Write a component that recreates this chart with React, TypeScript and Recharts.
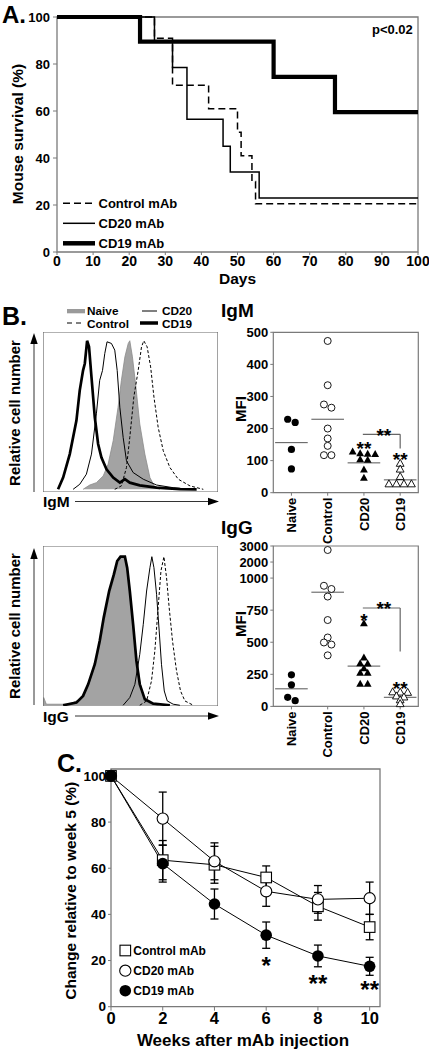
import React from 'react';
import {
  LineChart,
  Line,
  ComposedChart,
  Area,
  ScatterChart,
  Scatter,
  XAxis,
  YAxis,
  ErrorBar,
  ReferenceArea,
  ReferenceLine,
  ReferenceDot,
} from 'recharts';

const FONT = '"Liberation Sans", Arial, Helvetica, sans-serif';
const BOX = '#7a7a7a';

// ---------- A. survival (days, % alive) ----------
const dayTicks = [0, 10, 20, 30, 40, 50, 60, 70, 80, 90, 100];
const survTicks = [0, 20, 40, 60, 80, 100];
const ctrlDays = [0, 27, 32, 42, 50, 51, 54, 55, 100];
const ctrlSurv = [100, 91, 71, 61, 51, 41, 30, 20.5, 20.5];
const cd20Days = [0, 27, 32, 36, 46, 48, 56, 100];
const cd20Surv = [100, 89.5, 78.5, 56.5, 45, 34, 23, 23];
const cd19Days = [0, 23, 60, 77, 100];
const cd19Surv = [100, 89.5, 74.5, 59.5, 59.5];

// ---------- B. histograms [channel, relative count] ----------
const igmNaiveHist = [[22.9, 0], [26.7, 2.9], [30.5, 4.5], [34.4, 9], [37.2, 16.9], [40.1, 32.7], [42.9, 55.3], [44.8, 73.4], [46.8, 89.2], [48.7, 98.2], [49.6, 100], [51.1, 89.2], [53.1, 68.8], [55.3, 44], [58.2, 23.7], [61.1, 7.9], [63.9, 1.6], [66.8, 0]];
const igmCd19Hist = [[8.6, 0], [11.5, 7.9], [15.3, 23.7], [19.1, 46.3], [21, 66.6], [22.9, 80.1], [23.9, 84.7], [25.2, 100], [26.3, 95.9], [27.7, 75.6], [29.6, 48.5], [31.5, 30.5], [33.4, 21.4], [36.3, 13.5], [40.1, 7.9], [43.9, 4.5], [46.8, 6.8], [49.6, 4.5], [55.3, 2.7], [64.9, 1.1], [78.2, 0.2], [87.8, 0]];
const igmCd20Hist = [[17.2, 0], [21, 3.4], [24.8, 10.2], [27.7, 23.7], [30.5, 50.8], [32.4, 73.4], [34, 80], [35.3, 91.4], [36.6, 99.3], [39.1, 98.2], [41, 93.7], [42.4, 80], [43.9, 55.3], [45.8, 35], [47.7, 19.2], [51.5, 11.3], [57.3, 6.8], [64.9, 2.9], [74.4, 1.1], [84, 0]];
const igmCtrlHist = [[41, 0], [44.8, 2.3], [47.7, 14.7], [49.6, 35], [51.9, 62.1], [54.4, 80.1], [56.3, 95.9], [57.6, 100], [59.5, 95.9], [61.5, 82.4], [63.4, 62.1], [65.8, 41.8], [68.7, 26], [72.5, 14.7], [77.3, 6.8], [84, 2.3], [91.6, 0]];

const iggNaiveHist = [[0, 0], [0.4, 5.2], [1.9, 0.7], [13.4, 0.7], [17.2, 1.8], [21, 4], [23.9, 8.5], [26.7, 16.4], [30.5, 29.8], [33.4, 46.6], [35.3, 59], [38.2, 75.8], [41, 88.1], [42.9, 96], [44.8, 100], [46.8, 99.3], [48.1, 90.4], [49.6, 74.7], [51.5, 52.2], [53.4, 32.1], [55.3, 16.4], [57.3, 6.3], [60.1, 1.8], [64.9, 0.2], [66, 0]];
const iggCd19Hist = [[11.5, 0], [19.1, 1.8], [22.9, 6.3], [25.8, 14.1], [29.6, 27.6], [32.4, 43.3], [34.7, 59], [37.8, 76.9], [40.5, 88.1], [42.4, 97.1], [44.3, 100], [46.8, 100], [48.1, 92.6], [49.6, 76.9], [51.5, 54.5], [53.4, 29.8], [55.3, 14.1], [58.2, 4], [63, 1.1], [72.5, 0]];
const iggCd20Hist = [[45.8, 0], [49.6, 5.2], [52.5, 14.1], [55.3, 34.3], [57.3, 54.5], [59.2, 76.9], [61.1, 92.6], [62.2, 100], [63.4, 92.6], [64.9, 74.7], [66.4, 50], [67.7, 27.6], [69.3, 9.6], [71, 2.9], [74.4, 0.7], [78.2, 0]];
const iggCtrlHist = [[55.3, 0], [59.2, 2.9], [62, 16.4], [63.9, 36.5], [65.8, 65.7], [67.4, 90.4], [69.1, 100], [70.6, 85.9], [72.1, 65.7], [74, 43.3], [76.3, 23.1], [78.6, 9.6], [81.1, 2.9], [85.9, 0]];

// ---------- B. MFI per mouse ----------
const groups = ['Naive', 'Control', 'CD20', 'CD19'];
const igmTicks = [0, 100, 200, 300, 400, 500];
const igmNaive = [229, 219, 135, 74];
const igmCtrl = [473, 335, 275, 265, 200, 169, 146, 117, 117];
const igmCd20 = [128, 122, 121, 120, 104, 102, 72, 46];
const igmCd19 = [91, 73, 50, 27, 27, 27, 27];
const igmMeans = [156, 229, 93, 40];

const iggTicks = [0, 250, 500, 750, 1000, 2000, 3000];
const iggNaive = [246, 168, 71, 45];
const iggCtrl = [2750, 940, 915, 856, 673, 537, 498, 482, 398];
const iggCd20 = [647, 380, 335, 333, 296, 260, 260, 175, 175];
const iggCd19 = [112, 110, 108, 80, 72, 50, 20];
const iggMeans = [137, 890, 314, 71];

// ---------- C. change relative to week 5 ----------
const weeks = [0, 2, 4, 6, 8, 10];
const ctrlChange = [100, 63.5, 61.5, 56, 43.5, 34.5];
const ctrlErr = [0, 8.5, 8, 5, 6, 5.5];
const cd20Change = [100, 81.5, 63, 50, 46.5, 47];
const cd20Err = [0, 11.5, 8, 6.5, 6, 7];
const cd19Change = [100, 62, 44.5, 31, 22, 17.5];
const cd19Err = [0, 8, 6.5, 5.7, 4.7, 3.9];

const steps = (d: number[], s: number[]) => d.map((day, i) => ({ day, surv: s[i] }));
const hist = (h: number[][]) => h.map(([ch, n]) => ({ ch, n }));

// broken IgG axis: 1000..3000 squeezed
const brk = (v: number) => (v <= 1000 ? v : 1000 + (v - 1000) * 0.125);

// place dots of near-equal value side by side
const BAND_PX = (418.3 - 273.3) / 4;
function swarm(vals: number[], idx: number, pxPerUnit: number, tf: (v: number) => number = (v) => v) {
  const s = vals.map(tf).sort((a, b) => b - a);
  const out: { x: number; y: number }[] = [];
  const step = 7.5 / BAND_PX;
  let i = 0;
  while (i < s.length) {
    let j = i + 1;
    while (j < s.length && (s[i] - s[j]) * pxPerUnit < 3.6) j++;
    const n = j - i;
    for (let k = i; k < j; k++) out.push({ x: idx + (k - i - (n - 1) / 2) * step, y: s[k] });
    i = j;
  }
  return out;
}

const tickStyle = (size: number) => ({ fontSize: size, fontWeight: 700, fill: '#000', fontFamily: FONT });

const filledCircle = (p: any) => <circle cx={p.cx} cy={p.cy} r={3.6} fill="#000" />;
const openCircle = (p: any) => <circle cx={p.cx} cy={p.cy} r={3.5} fill="#fff" stroke="#000" strokeWidth={0.9} />;
const triPath = (cx: number, cy: number) => `M${cx},${cy - 4.2}L${cx - 3.9},${cy + 2.8}L${cx + 3.9},${cy + 2.8}Z`;
const filledTri = (p: any) => <path d={triPath(p.cx, p.cy)} fill="#000" />;
const openTri = (p: any) => <path d={triPath(p.cx, p.cy)} fill="#fff" stroke="#000" strokeWidth={0.9} />;

const stars = (s: string, fs: number) => (p: any) => (
  <text x={p.cx} y={p.cy + 0.56 * fs} textAnchor="middle" fontSize={fs} fontWeight={700} fontFamily={FONT}>
    {s}
  </text>
);

const CatTick = (p: any) => (
  <text
    x={p.x}
    y={p.y}
    transform={`rotate(-90 ${p.x} ${p.y})`}
    textAnchor="end"
    dy="0.36em"
    fontSize={13}
    fontWeight={700}
    fontFamily={FONT}
  >
    {groups[p.payload.value]}
  </text>
);

const VText = ({ x, y, size, children }: any) => (
  <text transform={`translate(${x} ${y}) rotate(-90)`} textAnchor="middle" dy="0.36em" fontSize={size} fontWeight={700} fontFamily={FONT}>
    {children}
  </text>
);

const T = ({ x, y, size, anchor = 'start', children }: any) => (
  <text x={x} y={y} fontSize={size} fontWeight={700} fontFamily={FONT} textAnchor={anchor}>
    {children}
  </text>
);

function Histogram({ naive, cd19, cd20, ctrl, yDomain }: any) {
  return (
    <ComposedChart width={175} height={160} data={hist(naive)} margin={{ top: 0, right: 0, bottom: 0, left: 0 }}>
      <XAxis hide type="number" dataKey="ch" domain={[0, 100]} />
      <YAxis hide type="number" domain={yDomain} />
      <Area dataKey="n" type="linear" baseValue={0} fill="#a3a3a3" fillOpacity={1} stroke="#8a8a8a" strokeWidth={0.8} isAnimationActive={false} />
      <Line data={hist(cd20)} dataKey="n" type="linear" stroke="#000" strokeWidth={1} dot={false} isAnimationActive={false} />
      <Line data={hist(ctrl)} dataKey="n" type="linear" stroke="#000" strokeWidth={1} strokeDasharray="3 2" dot={false} isAnimationActive={false} />
      <Line data={hist(cd19)} dataKey="n" type="linear" stroke="#000" strokeWidth={2.7} dot={false} isAnimationActive={false} />
      <ReferenceArea x1={0} x2={100} y1={yDomain[0]} y2={yDomain[1]} fill="none" stroke="#666" strokeWidth={1.2} ifOverflow="visible" />
    </ComposedChart>
  );
}

function MfiPlot({ sets, means, top, height, pxPerUnit, tf, domain, ticks, tickLabels, marks }: any) {
  const shapes = [filledCircle, openCircle, filledTri, openTri];
  return (
    <ScatterChart width={209} height={height} margin={{ top, right: 10.7, bottom: 0, left: 0 }}>
      <XAxis
        type="number"
        dataKey="x"
        domain={[-0.5, 3.5]}
        ticks={[0, 1, 2, 3]}
        interval={0}
        height={height - top - 160.4}
        axisLine={false}
        tickLine={{ stroke: BOX }}
        tickSize={3}
        tickMargin={2}
        tick={<CatTick />}
      />
      <YAxis
        type="number"
        dataKey="y"
        domain={domain}
        ticks={ticks.map(tf)}
        interval={0}
        width={53.3}
        axisLine={false}
        tickLine={{ stroke: BOX }}
        tickSize={3}
        tickMargin={2}
        tickFormatter={(v: number, i: number) => String(tickLabels[i])}
        tick={tickStyle(13)}
      />
      <ReferenceArea x1={-0.5} x2={3.5} y1={domain[0]} y2={domain[1]} fill="none" stroke={BOX} strokeWidth={1.2} ifOverflow="visible" />
      {means.map((m: number, i: number) => (
        <ReferenceLine key={`m${i}`} segment={[{ x: i - 0.45, y: tf(m) }, { x: i + 0.45, y: tf(m) }]} stroke="#555" strokeWidth={1} />
      ))}
      {sets.map((vals: number[], i: number) => (
        <Scatter key={groups[i]} name={groups[i]} data={swarm(vals, i, pxPerUnit, tf)} shape={shapes[i]} isAnimationActive={false} />
      ))}
      <ReferenceLine segment={[{ x: 1.97, y: marks.bracket }, { x: 3, y: marks.bracket }]} stroke="#666" strokeWidth={1.2} />
      <ReferenceLine segment={[{ x: 3, y: marks.bracket }, { x: 3, y: marks.bracketEnd }]} stroke="#666" strokeWidth={1.2} />
      <ReferenceDot x={2.55} y={marks.bracketStar} ifOverflow="visible" shape={stars('**', 19)} />
      <ReferenceDot x={2} y={marks.cd20Star[0]} ifOverflow="visible" shape={stars(marks.cd20Star[1], 19)} />
      <ReferenceDot x={3} y={marks.cd19Star} ifOverflow="visible" shape={stars('**', 19)} />
    </ScatterChart>
  );
}

const cData = weeks.map((w, i) => ({
  w,
  ctrl: ctrlChange[i],
  ctrlE: ctrlErr[i],
  cd20: cd20Change[i],
  cd20E: cd20Err[i],
  cd19: cd19Change[i],
  cd19E: cd19Err[i],
}));

const squareDot = (p: any) => (
  <rect key={`s${p.index}`} x={p.cx - 5.3} y={p.cy - 5.3} width={10.6} height={10.6} fill="#fff" stroke="#000" strokeWidth={1.1} />
);
const openDot = (p: any) => <circle key={`o${p.index}`} cx={p.cx} cy={p.cy} r={5.6} fill="#fff" stroke="#000" strokeWidth={1.1} />;
const fillDot = (p: any) => <circle key={`f${p.index}`} cx={p.cx} cy={p.cy} r={5.8} fill="#000" />;

const abs = (left: number, top: number): React.CSSProperties => ({ position: 'absolute', left, top });

export default function App() {
  return (
    <div style={{ position: 'absolute', left: 0, top: 0, width: 429, height: 1050, background: '#fff', overflow: 'hidden' }}>
      {/* A */}
      <div style={abs(0, 0)}>
        <LineChart width={429} height={290} margin={{ top: 17, right: 11, bottom: 0, left: 0 }}>
          <XAxis
            type="number"
            dataKey="day"
            domain={[0, 100]}
            ticks={dayTicks}
            interval={0}
            height={38}
            axisLine={false}
            tickLine={{ stroke: BOX }}
            tickSize={3}
            tickMargin={1}
            tick={tickStyle(14)}
          />
          <YAxis
            type="number"
            domain={[0, 100]}
            ticks={survTicks}
            interval={0}
            width={57}
            axisLine={false}
            tickLine={{ stroke: BOX }}
            tickSize={4}
            tickMargin={3}
            tick={tickStyle(13)}
          />
          <ReferenceArea x1={0} x2={100} y1={0} y2={100} fill="none" stroke={BOX} strokeWidth={1.3} ifOverflow="visible" />
          <Line data={steps(ctrlDays, ctrlSurv)} dataKey="surv" type="stepAfter" stroke="#000" strokeWidth={1.5} strokeDasharray="7 4" dot={false} isAnimationActive={false} />
          <Line data={steps(cd20Days, cd20Surv)} dataKey="surv" type="stepAfter" stroke="#000" strokeWidth={1.5} dot={false} isAnimationActive={false} />
          <Line data={steps(cd19Days, cd19Surv)} dataKey="surv" type="stepAfter" stroke="#000" strokeWidth={4.2} dot={false} isAnimationActive={false} />
        </LineChart>
      </div>

      {/* B histograms */}
      <div style={abs(43.3, 332)}>
        <Histogram naive={igmNaiveHist} cd19={igmCd19Hist} cd20={igmCd20Hist} ctrl={igmCtrlHist} yDomain={[-1.8, 105.9]} />
      </div>
      <div style={abs(43.3, 545.5)}>
        <Histogram naive={iggNaiveHist} cd19={iggCd19Hist} cd20={iggCd20Hist} ctrl={iggCtrlHist} yDomain={[-0.5, 107.2]} />
      </div>

      {/* B MFI */}
      <div style={abs(220, 320)}>
        <MfiPlot
          sets={[igmNaive, igmCtrl, igmCd20, igmCd19]}
          means={igmMeans}
          top={12.3}
          height={232}
          pxPerUnit={160.4 / 500}
          tf={(v: number) => v}
          domain={[0, 500]}
          ticks={igmTicks}
          tickLabels={igmTicks}
          marks={{ bracket: 182, bracketEnd: 138, bracketStar: 192, cd20Star: [150, '**'], cd19Star: 116 }}
        />
      </div>
      <div style={abs(220, 530)}>
        <MfiPlot
          sets={[iggNaive, iggCtrl, iggCd20, iggCd19]}
          means={iggMeans}
          top={16}
          height={240}
          pxPerUnit={159.7 / 1250}
          tf={brk}
          domain={[0, 1250]}
          ticks={iggTicks}
          tickLabels={iggTicks}
          marks={{ bracket: 767, bracketEnd: 428, bracketStar: 798, cd20Star: [702, '*'], cd19Star: 175 }}
        />
      </div>

      {/* C */}
      <div style={abs(0, 740)}>
        <LineChart width={429} height={310} data={cData} margin={{ top: 29, right: 49, bottom: 0, left: 0 }}>
          <XAxis
            type="number"
            dataKey="w"
            domain={[0, 10.4]}
            ticks={weeks}
            interval={0}
            height={43.3}
            axisLine={false}
            tickLine={{ stroke: BOX }}
            tickSize={4}
            tickMargin={2}
            tick={tickStyle(16.5)}
          />
          <YAxis
            type="number"
            domain={[0, 103]}
            ticks={survTicks}
            interval={0}
            width={111}
            axisLine={false}
            tickLine={{ stroke: BOX }}
            tickSize={3}
            tickMargin={2}
            tick={tickStyle(13.5)}
          />
          <ReferenceArea x1={0} x2={10.4} y1={0} y2={103} fill="none" stroke={BOX} strokeWidth={1.3} ifOverflow="visible" />
          <Line dataKey="ctrl" stroke="#000" strokeWidth={1} dot={squareDot} isAnimationActive={false}>
            <ErrorBar dataKey="ctrlE" direction="y" width={4} stroke="#000" strokeWidth={1.3} />
          </Line>
          <Line dataKey="cd20" stroke="#000" strokeWidth={1} dot={openDot} isAnimationActive={false}>
            <ErrorBar dataKey="cd20E" direction="y" width={4} stroke="#000" strokeWidth={1.3} />
          </Line>
          <Line dataKey="cd19" stroke="#000" strokeWidth={1} dot={fillDot} isAnimationActive={false}>
            <ErrorBar dataKey="cd19E" direction="y" width={4} stroke="#000" strokeWidth={1.3} />
          </Line>
          <ReferenceDot x={6} y={20.2} ifOverflow="visible" shape={stars('*', 24)} />
          <ReferenceDot x={8} y={12.4} ifOverflow="visible" shape={stars('**', 24)} />
          <ReferenceDot x={10} y={9.4} ifOverflow="visible" shape={stars('**', 24)} />
        </LineChart>
      </div>

      {/* text, legends, arrows */}
      <svg width={429} height={1050} style={{ position: 'absolute', left: 0, top: 0, pointerEvents: 'none' }}>
        {/* A */}
        <T x={2} y={23} size={24}>A.</T>
        <VText x={17} y={134} size={15.5}>Mouse survival (%)</VText>
        <T x={237.5} y={284} size={15.5} anchor="middle">Days</T>
        <T x={372} y={34} size={13}>p&lt;0.02</T>
        <line x1={63} x2={95} y1={203.3} y2={203.3} stroke="#000" strokeWidth={1.5} strokeDasharray="7 4" />
        <T x={98.5} y={208} size={13}>Control mAb</T>
        <line x1={63} x2={95} y1={223.3} y2={223.3} stroke="#000" strokeWidth={1.5} />
        <T x={98.5} y={228} size={13}>CD20 mAb</T>
        <line x1={63} x2={95} y1={243.3} y2={243.3} stroke="#000" strokeWidth={4.5} />
        <T x={98.5} y={248} size={13}>CD19 mAb</T>

        {/* B legend */}
        <T x={2} y={325} size={25}>B.</T>
        <rect x={67} y={309} width={18} height={4.3} fill="#9a9a9a" />
        <T x={87} y={314.5} size={11.8}>Naive</T>
        <line x1={142} x2={157} y1={311} y2={311} stroke="#000" strokeWidth={1} />
        <T x={162} y={314.5} size={11.8}>CD20</T>
        <line x1={67} x2={84} y1={323} y2={323} stroke="#000" strokeWidth={1} strokeDasharray="5 4" />
        <T x={87} y={328} size={11.8}>Control</T>
        <line x1={140} x2={158} y1={323} y2={323} stroke="#000" strokeWidth={3.5} />
        <T x={162} y={328} size={11.8}>CD19</T>

        {/* B histogram axes */}
        <VText x={15} y={413} size={15}>Relative cell number</VText>
        <line x1={34} x2={34} y1={342} y2={492} stroke="#333" strokeWidth={1} />
        <polygon points="34,333 30.3,344 37.7,344" fill="#000" />
        <T x={43} y={507} size={15.5}>IgM</T>
        <line x1={75} x2={209} y1={501.5} y2={501.5} stroke="#333" strokeWidth={1} />
        <polygon points="219,501.5 208,497.8 208,505.2" fill="#000" />

        <VText x={15} y={626} size={15}>Relative cell number</VText>
        <line x1={34} x2={34} y1={557} y2={705} stroke="#333" strokeWidth={1} />
        <polygon points="34,548 30.3,559 37.7,559" fill="#000" />
        <T x={43} y={721.5} size={15.5}>IgG</T>
        <line x1={75} x2={209} y1={716} y2={716} stroke="#333" strokeWidth={1} />
        <polygon points="219,716 208,712.3 208,719.7" fill="#000" />

        {/* B MFI titles */}
        <T x={221} y={317} size={19}>IgM</T>
        <VText x={241} y={409} size={15}>MFI</VText>
        <T x={221} y={534} size={19}>IgG</T>
        <VText x={241} y={624} size={15}>MFI</VText>

        {/* C */}
        <T x={57} y={772} size={25}>C.</T>
        <VText x={70.5} y={890.7} size={15.5}>Change relative to week 5 (%)</VText>
        <T x={243} y={1045.5} size={17} anchor="middle">Weeks after mAb injection</T>
        <rect x={120} y={945.2} width={10.6} height={10.6} fill="#fff" stroke="#000" strokeWidth={1.1} />
        <T x={133.3} y={955} size={12}>Control mAb</T>
        <circle cx={125.3} cy={970.7} r={5.6} fill="#fff" stroke="#000" strokeWidth={1.1} />
        <T x={133.3} y={975} size={12}>CD20 mAb</T>
        <circle cx={125.3} cy={990.7} r={5.8} fill="#000" />
        <T x={133.3} y={995} size={12}>CD19 mAb</T>
      </svg>
    </div>
  );
}
